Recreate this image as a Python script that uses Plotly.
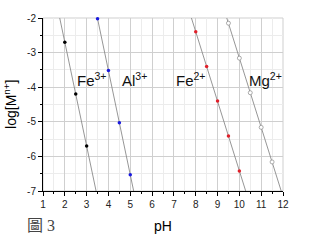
import numpy as np
import plotly.graph_objects as go

# ---- data ----
fe3_ph = [2.0, 2.5, 3.0]
fe3_log = [-2.7, -4.2, -5.7]
al3_ph = [3.5, 4.0, 4.5, 5.0]
al3_log = [-2.02, -3.52, -5.03, -6.53]
fe2_ph = [8.0, 8.5, 9.0, 9.5, 10.0]
fe2_log = [-2.4, -3.4, -4.4, -5.41, -6.42]
mg2_ph = [9.5, 10.0, 10.5, 11.0, 11.5]
mg2_log = [-2.15, -3.16, -4.16, -5.16, -6.16]

series_labels = ["Fe<sup>3+</sup>", "Al<sup>3+</sup>", "Fe<sup>2+</sup>", "Mg<sup>2+</sup>"]
x_ticks = [1, 2, 3, 4, 5, 6, 7, 8, 9, 10, 11, 12]
x_ticktext = ["1", "2", "3", "4", "5", "6", "7", "8", "9", "10", "11", "12"]
y_ticks = [-2, -3, -4, -5, -6, -7]
y_ticktext = ["-2", "-3", "-4", "-5", "-6", "-7"]

YMIN, YMAX = -7, -2
XMIN, XMAX = 1, 12

fig = go.Figure()

series = [
    (fe3_ph, fe3_log, dict(color="black", size=3.5, line=dict(width=0))),
    (al3_ph, al3_log, dict(color="#1a1adf", size=3.5, line=dict(width=0))),
    (fe2_ph, fe2_log, dict(color="#e0202a", size=3.5, line=dict(width=0))),
    (mg2_ph, mg2_log, dict(color="white", size=4, line=dict(color="#8a8a8a", width=0.7))),
]

for px, py, mk in series:
    m, b = np.polyfit(px, py, 1)
    ys = np.array([YMAX, YMIN])
    xs = (ys - b) / m
    fig.add_trace(go.Scatter(x=xs, y=ys, mode="lines",
                             line=dict(color="#8a8a8a", width=0.9),
                             hoverinfo="skip", showlegend=False))
for px, py, mk in series:
    fig.add_trace(go.Scatter(x=px, y=py, mode="markers", marker=mk,
                             showlegend=False, cliponaxis=False))

# label positions (data coords)
label_pos = [(3.25, -3.77), (5.2, -3.77), (7.78, -3.77), (11.22, -3.77)]
for txt, (lx, ly) in zip(series_labels, label_pos):
    fig.add_annotation(x=lx, y=ly, text=txt, showarrow=False,
                       font=dict(family="Liberation Sans, Arial", size=15, color="#111111"),
                       xanchor="center", yanchor="middle")

axis_common = dict(
    showline=True, linecolor="black", linewidth=1,
    ticks="outside", ticklen=4, tickwidth=1, tickcolor="black",
    showgrid=True, gridcolor="#cfcfcf", gridwidth=1,
    zeroline=False,
    tickfont=dict(family="Liberation Sans, Arial", size=10, color="#222222"),
    minor=dict(ticks="outside", ticklen=2, tickcolor="black", showgrid=True,
               gridcolor="#ececec", gridwidth=1, dtick=0.5),
)

fig.update_xaxes(range=[XMIN, XMAX], tickmode="array", tickvals=x_ticks,
                 ticktext=x_ticktext, **axis_common)
fig.update_yaxes(range=[YMIN, YMAX], tickmode="array", tickvals=y_ticks,
                 ticktext=y_ticktext, **axis_common)

# top/right grey frame
fig.add_shape(type="rect", xref="paper", yref="paper", x0=0, y0=0, x1=1, y1=1,
              line=dict(color="#cfcfcf", width=1), layer="below")

fig.add_annotation(xref="paper", yref="paper", x=0.5, y=-0.2, text="pH",
                   showarrow=False, xanchor="center", yanchor="middle",
                   font=dict(family="Liberation Sans, Arial", size=14, color="black"))
fig.add_annotation(xref="paper", yref="paper", x=-0.14, y=0.5,
                   text="log[M<sup>n+</sup>]", textangle=-90,
                   showarrow=False, xanchor="center", yanchor="middle",
                   font=dict(family="Liberation Sans, Arial", size=14, color="black"))
fig.add_annotation(xref="paper", yref="paper", x=-0.075, y=-0.2,
                   text="圖 3", showarrow=False, xanchor="left", yanchor="middle",
                   font=dict(family="Liberation Serif, Noto Sans CJK TC", size=16, color="#444444"))

fig.update_layout(
    width=309, height=240,
    margin=dict(l=43, r=26, t=14, b=49),
    plot_bgcolor="white", paper_bgcolor="white",
)

fig.write_html("out.html")
